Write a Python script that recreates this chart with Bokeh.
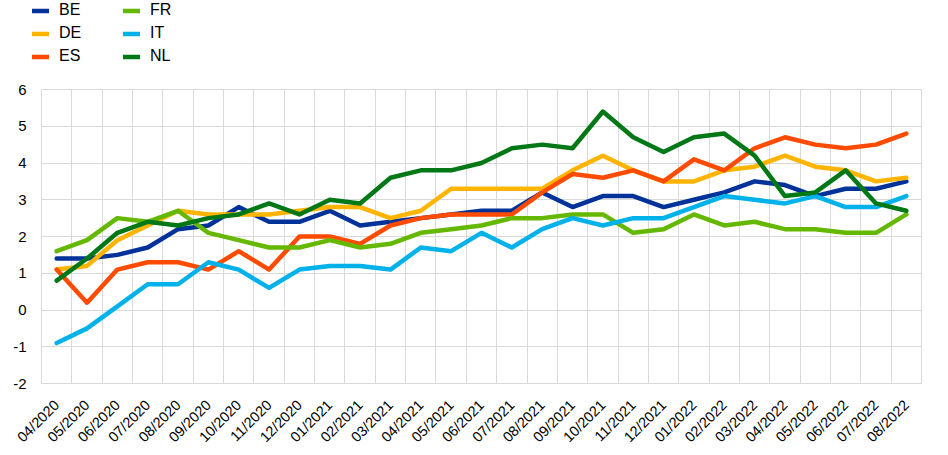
from bokeh.plotting import figure
from bokeh.models import FixedTicker, Range1d, Legend, LegendItem
from bokeh.embed import file_html
from bokeh.resources import INLINE

months = ["04/2020", "05/2020", "06/2020", "07/2020", "08/2020", "09/2020", "10/2020",
          "11/2020", "12/2020", "01/2021", "02/2021", "03/2021", "04/2021", "05/2021",
          "06/2021", "07/2021", "08/2021", "09/2021", "10/2021", "11/2021", "12/2021",
          "01/2022", "02/2022", "03/2022", "04/2022", "05/2022", "06/2022", "07/2022",
          "08/2022"]

BE = [1.4, 1.4, 1.5, 1.7, 2.2, 2.3, 2.8, 2.4, 2.4, 2.7, 2.3, 2.4, 2.5, 2.6, 2.7,
      2.7, 3.2, 2.8, 3.1, 3.1, 2.8, 3.0, 3.2, 3.5, 3.4, 3.1, 3.3, 3.3, 3.5]
DE = [1.1, 1.2, 1.9, 2.3, 2.7, 2.6, 2.6, 2.6, 2.7, 2.8, 2.8, 2.5, 2.7, 3.3, 3.3,
      3.3, 3.3, 3.8, 4.2, 3.8, 3.5, 3.5, 3.8, 3.9, 4.2, 3.9, 3.8, 3.5, 3.6]
ES = [1.1, 0.2, 1.1, 1.3, 1.3, 1.1, 1.6, 1.1, 2.0, 2.0, 1.8, 2.3, 2.5, 2.6, 2.6,
      2.6, 3.2, 3.7, 3.6, 3.8, 3.5, 4.1, 3.8, 4.4, 4.7, 4.5, 4.4, 4.5, 4.8]
FR = [1.6, 1.9, 2.5, 2.4, 2.7, 2.1, 1.9, 1.7, 1.7, 1.9, 1.7, 1.8, 2.1, 2.2, 2.3,
      2.5, 2.5, 2.6, 2.6, 2.1, 2.2, 2.6, 2.3, 2.4, 2.2, 2.2, 2.1, 2.1, 2.6]
IT = [-0.9, -0.5, 0.1, 0.7, 0.7, 1.3, 1.1, 0.6, 1.1, 1.2, 1.2, 1.1, 1.7, 1.6, 2.1,
      1.7, 2.2, 2.5, 2.3, 2.5, 2.5, 2.8, 3.1, 3.0, 2.9, 3.1, 2.8, 2.8, 3.1]
NL = [0.8, 1.4, 2.1, 2.4, 2.3, 2.5, 2.6, 2.9, 2.6, 3.0, 2.9, 3.6, 3.8, 3.8, 4.0,
      4.4, 4.5, 4.4, 5.4, 4.7, 4.3, 4.7, 4.8, 4.2, 3.1, 3.2, 3.8, 2.9, 2.7]

series_names = ["BE", "DE", "ES", "FR", "IT", "NL"]
series_values = [BE, DE, ES, FR, IT, NL]
colors = ["#003299", "#FFB400", "#FF4B00", "#65B800", "#00B1EA", "#007816"]
y_ticks = [-2, -1, 0, 1, 2, 3, 4, 5, 6]

FONT = "Liberation Sans"
GRID = "#d9d9d9"
x = list(range(len(months)))

# layout geometry (pixels)
W, H = 948, 455
PLOT_L, PLOT_R, PLOT_T, PLOT_B = 41, 921, 89, 383   # the gridded area
FRAME_L, FRAME_T = 26, 0                             # frame extended to hold the legend
x_lo, x_hi = -0.5, len(months) - 0.5
y_lo, y_hi = min(y_ticks), max(y_ticks)
px_x = (PLOT_R - PLOT_L) / (x_hi - x_lo)
px_y = (PLOT_B - PLOT_T) / (y_hi - y_lo)
xr = Range1d(x_lo - (PLOT_L - FRAME_L) / px_x, x_hi + 1.0 / px_x)
yr = Range1d(y_lo - 1.0 / px_y, y_hi + (PLOT_T - FRAME_T) / px_y)

p = figure(width=W, height=H, output_backend="svg", toolbar_location=None,
           x_range=xr, y_range=yr,
           min_border_left=FRAME_L, min_border_right=W - (PLOT_R + 1),
           min_border_top=FRAME_T, min_border_bottom=H - (PLOT_B + 1))
p.outline_line_color = None
p.background_fill_color = "white"

renderers = []
for name, vals, col in zip(series_names, series_values, colors):
    r = p.line(x, vals, line_color=col, line_width=4.5, line_join="round",
               line_cap="round")
    renderers.append(r)

# axes
p.xaxis.ticker = FixedTicker(ticks=x)
p.xaxis.major_label_overrides = {i: m for i, m in enumerate(months)}
p.xaxis.major_label_orientation = 0.785398
p.xaxis.axis_line_color = None
p.xaxis.major_tick_line_color = None
p.xaxis.minor_tick_line_color = None
p.xaxis.major_tick_out = 0
p.xaxis.major_tick_in = 0
p.xaxis.major_label_standoff = 18
p.xaxis.major_label_text_font = FONT
p.xaxis.major_label_text_font_size = "14.5px"
p.xaxis.major_label_text_color = "#000000"

p.yaxis.ticker = FixedTicker(ticks=y_ticks)
p.yaxis.major_label_overrides = {t: str(t) for t in y_ticks}
p.yaxis.axis_line_color = None
p.yaxis.major_tick_line_color = None
p.yaxis.minor_tick_line_color = None
p.yaxis.major_tick_out = 0
p.yaxis.major_tick_in = 0
p.yaxis.major_label_standoff = 0
p.yaxis.major_label_text_font = FONT
p.yaxis.major_label_text_font_size = "15px"
p.yaxis.major_label_text_color = "#000000"

# grids limited to the data area
p.xgrid.ticker = FixedTicker(ticks=[i - 0.5 for i in range(len(months) + 1)])
p.xgrid.grid_line_color = GRID
p.xgrid.grid_line_width = 1
p.ygrid.ticker = FixedTicker(ticks=y_ticks)
p.ygrid.grid_line_color = GRID
p.ygrid.grid_line_width = 1
p.xgrid.cross_bounds = (y_lo, y_hi)
p.ygrid.cross_bounds = (x_lo, x_hi)

# legends: two columns at the top left
def make_legend(idxs, xloc):
    items = [LegendItem(label=series_names[i], renderers=[renderers[i]]) for i in idxs]
    return Legend(items=items, location=(xloc, (PLOT_B + 1) - 65),
                  orientation="vertical",
                  glyph_width=17, glyph_height=17, label_height=17, spacing=5,
                  padding=0, margin=0, label_standoff=10,
                  border_line_color=None, background_fill_alpha=0,
                  label_text_font=FONT, label_text_font_size="16px",
                  label_text_color="#000000")

p.add_layout(make_legend([0, 1, 2], 6), "center")
p.add_layout(make_legend([3, 4, 5], 97), "center")

open("out.html", "w").write(file_html(p, INLINE))
